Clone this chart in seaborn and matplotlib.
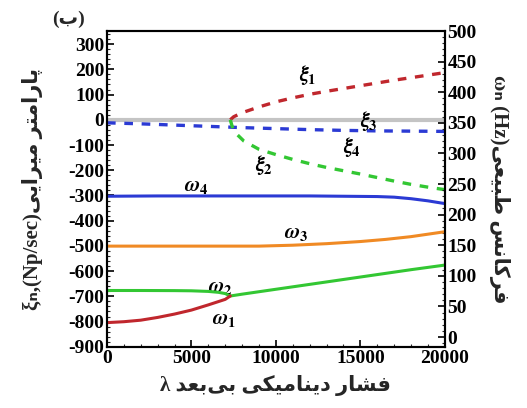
import numpy as np
import matplotlib
matplotlib.use("Agg")
import matplotlib.pyplot as plt
from matplotlib.ticker import MultipleLocator
import seaborn as sns

# --- data ---
# natural frequencies (Hz, right axis)
lam_w1 = [0, 1000, 2000, 3000, 4000, 5000, 6000, 7000, 7300]
w1_hz = [23.5, 25, 27.5, 32, 37.5, 44, 52.5, 61.5, 67]
lam_w2 = [0, 2000, 4000, 5000, 6000, 6600, 7000, 7300, 8000, 9000, 10000, 11000,
          12000, 14000, 16000, 18000, 20000]
w2_hz = [76, 76, 75.8, 75.5, 74.5, 73, 71, 67, 70, 74, 78, 82, 86, 94, 102, 110, 117.5]
lam_w3 = [0, 3000, 6000, 9000, 11000, 13000, 15000, 16500, 18000, 19000, 20000]
w3_hz = [148.5, 148.5, 148.5, 148.5, 150, 152.5, 156, 159.5, 164, 168, 172]
lam_w4 = [0, 3000, 6000, 9000, 12000, 14000, 16000, 17000, 18000, 19000, 20000]
w4_hz = [230, 230.5, 230.5, 230.5, 230.5, 230, 229.5, 228.5, 226, 222.5, 218]

# damping parameters (Np/sec, left axis)
lam_x1 = [7300, 7500, 8000, 9000, 10000, 11000, 12000, 13000, 14000, 15000,
          16000, 17000, 18000, 19000, 20000]
xi1 = [0, 12, 28, 51, 71, 87, 101, 113, 124, 135, 146, 157, 167, 177, 187]
lam_x2 = [7300, 7450, 7700, 8100, 9000, 10000, 11000, 12000, 13000, 14000,
          15000, 16000, 17000, 18000, 19000, 20000]
xi2 = [0, -35, -58, -84, -117, -138, -157, -174, -189, -202, -215, -229, -243, -256, -267, -277]
lam_x3 = [0, 20000]
xi3 = [0, 0]
lam_x4 = [0, 2000, 4000, 6000, 8000, 10000, 12000, 14000, 16000, 18000, 20000]
xi4 = [-12, -16, -21, -26, -31, -35, -39, -42, -44, -45, -46]

xticks = [0, 5000, 10000, 15000, 20000]
left_ticks = list(range(-900, 301, 100))
right_ticks = list(range(0, 501, 50))

# --- minimal Persian shaping (presentation forms) ---
FORMS = {
    'ا': ('\uFE8D', '\uFE8E', None, None),
    'ب': ('\uFE8F', '\uFE90', '\uFE91', '\uFE92'),
    'پ': ('\uFB56', '\uFB57', '\uFB58', '\uFB59'),
    'ت': ('\uFE95', '\uFE96', '\uFE97', '\uFE98'),
    'د': ('\uFEA9', '\uFEAA', None, None),
    'ر': ('\uFEAD', '\uFEAE', None, None),
    'س': ('\uFEB1', '\uFEB2', '\uFEB3', '\uFEB4'),
    'ش': ('\uFEB5', '\uFEB6', '\uFEB7', '\uFEB8'),
    'ط': ('\uFEC1', '\uFEC2', '\uFEC3', '\uFEC4'),
    'ع': ('\uFEC9', '\uFECA', '\uFECB', '\uFECC'),
    'ف': ('\uFED1', '\uFED2', '\uFED3', '\uFED4'),
    'ک': ('\uFB8E', '\uFB8F', '\uFB90', '\uFB91'),
    'م': ('\uFEE1', '\uFEE2', '\uFEE3', '\uFEE4'),
    'ن': ('\uFEE5', '\uFEE6', '\uFEE7', '\uFEE8'),
    'ی': ('\uFBFC', '\uFBFD', '\uFBFE', '\uFBFF'),
}


def fa(text):
    # shape each word and lay words out right-to-left
    words = []
    for word in text.split(' '):
        out = []
        for i, ch in enumerate(word):
            if ch not in FORMS:
                out.append(ch)
                continue
            prev = word[i - 1] if i > 0 else ''
            nxt = word[i + 1] if i + 1 < len(word) else ''
            jp = prev in FORMS and FORMS[prev][2] is not None
            jn = nxt in FORMS and FORMS[ch][2] is not None
            f = FORMS[ch]
            out.append(f[3] if jp and jn else f[1] if jp else f[2] if jn else f[0])
        words.append(''.join(reversed(out)).replace('\u200c', ''))
    return ' '.join(reversed(words))


sns.set_theme(style="ticks")
plt.rcParams['font.family'] = ['Liberation Serif', 'DejaVu Sans']
plt.rcParams['font.weight'] = 'bold'
plt.rcParams['axes.unicode_minus'] = False
plt.rcParams['mathtext.fontset'] = 'stix'

RED = '#c0272d'
GREEN = '#33c733'
BLUE = '#2b3ad4'
ORANGE = '#f08a24'
GRAY = '#c4c4c4'

fig = plt.figure(figsize=(5.27, 4.08), dpi=100)
ax = fig.add_axes([0.203, 0.150, 0.641, 0.774])
ax2 = ax.twinx()

dash = (0, (2.6, 2.6))
sns.lineplot(x=lam_x3, y=xi3, ax=ax, color=GRAY, linewidth=3.0, zorder=2)
sns.lineplot(x=lam_x4, y=xi4, ax=ax, color=BLUE, linewidth=2.4, linestyle=dash, zorder=3)
sns.lineplot(x=lam_x1, y=xi1, ax=ax, color=RED, linewidth=2.4, linestyle=dash, zorder=3)
sns.lineplot(x=lam_x2, y=xi2, ax=ax, color=GREEN, linewidth=2.4, linestyle=dash, zorder=3)

sns.lineplot(x=lam_w4, y=w4_hz, ax=ax2, color=BLUE, linewidth=2.2)
sns.lineplot(x=lam_w3, y=w3_hz, ax=ax2, color=ORANGE, linewidth=2.2)
sns.lineplot(x=lam_w2, y=w2_hz, ax=ax2, color=GREEN, linewidth=2.2)
sns.lineplot(x=lam_w1, y=w1_hz, ax=ax2, color=RED, linewidth=2.2)

ax.set_xlim(0, 20000)
ax.set_ylim(-900, 352)
ax2.set_ylim(-16, 500)
ax.set_xticks(xticks)
ax.set_yticks(left_ticks)
ax2.set_yticks(right_ticks)
ax.xaxis.set_minor_locator(MultipleLocator(1000))
ax.yaxis.set_minor_locator(MultipleLocator(20))
ax2.yaxis.set_minor_locator(MultipleLocator(10))

for a in (ax, ax2):
    a.tick_params(which='major', direction='in', length=5, width=1.2,
                  labelsize=14, pad=2, colors='black')
    a.tick_params(which='minor', direction='in', length=2.5, width=0.8)
    for sp in a.spines.values():
        sp.set_linewidth(1.5)
        sp.set_color('black')
ax.tick_params(top=False, which='both')
ax2.tick_params(top=False, which='both')
for lab in ax.get_xticklabels() + ax.get_yticklabels() + ax2.get_yticklabels():
    lab.set_fontweight('bold')

# curve labels
lbl = dict(fontsize=15, color='black', ha='center', va='center')
ax.text(11860, 178, r'$\xi_1$', **lbl)
ax.text(9260, -178, r'$\xi_2$', **lbl)
ax.text(15520, -4, r'$\xi_3$', **lbl)
ax.text(14510, -107, r'$\xi_4$', **lbl)
ax.text(5250, -262, r'$\omega_4$', **lbl)
ax.text(11200, -448, r'$\omega_3$', **lbl)
ax.text(6730, -662, r'$\omega_2$', **lbl)
ax.text(6900, -789, r'$\omega_1$', **lbl)

fam = ['Liberation Serif', 'DejaVu Sans']
ax.set_xlabel('\u03bb ' + fa('فشار دینامیکی بی\u200cبعد'), fontsize=15,
              fontweight='bold', family=fam, labelpad=6)
ax.set_ylabel('\u03be\u2099,(Np/sec)' + fa('پارامتر میرایی'), fontsize=15,
              fontweight='bold', family=fam, labelpad=18)
ax2.set_ylabel('\u03c9\u2099 (Hz)' + fa('فرکانس طبیعی'), fontsize=15,
               fontweight='bold', family=fam, rotation=270, labelpad=24)
fig.text(0.13, 0.953, '(' + FORMS['ب'][0] + ')', fontsize=14, fontweight='bold',
         family=fam, ha='center', va='center')

fig.savefig('out.png', dpi=100)
